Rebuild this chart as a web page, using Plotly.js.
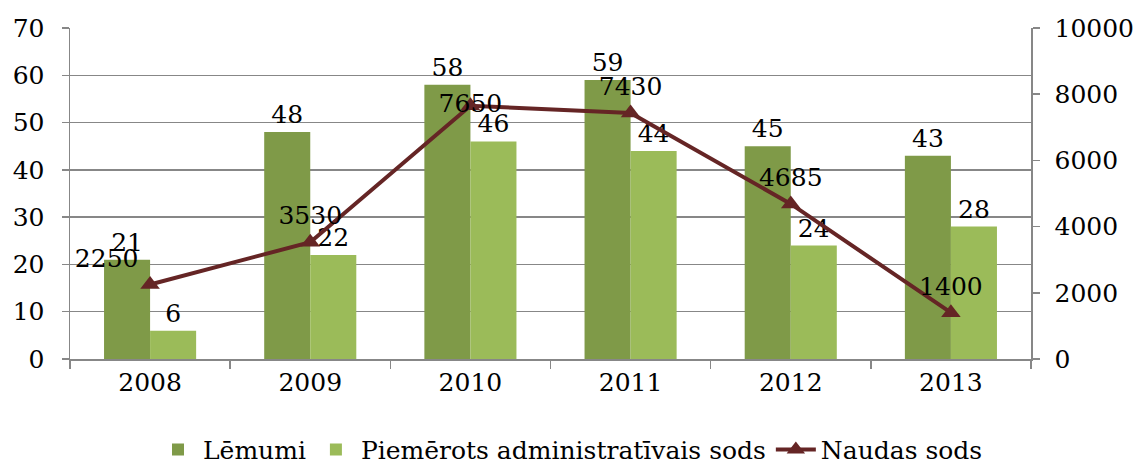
<!DOCTYPE html>
<html>
<head>
<meta charset="utf-8">
<script src="https://cdn.plot.ly/plotly-3.0.1.min.js"></script>
<style>html,body{margin:0;padding:0;background:#fff;}#chart{width:1141px;height:469px;}</style>
</head>
<body>
<div id="chart"></div>
<script>
const years = ['2008', '2009', '2010', '2011', '2012', '2013'];
const lemumi = [21, 48, 58, 59, 45, 43];
const piemerots = [6, 22, 46, 44, 24, 28];
const naudasSods = [2250, 3530, 7650, 7430, 4685, 1400];
const seriesNames = ['Lēmumi', 'Piemērots administratīvais sods', 'Naudas sods'];
const lineLabelPos = ['top left', 'top center', 'middle center', 'top center', 'top center', 'top center'];

const FONT = 'DejaVu Serif';
const FS = 25;

const traces = [
  {
    type: 'bar', name: seriesNames[0], x: years, y: lemumi,
    marker: {color: '#7F9A48'},
    text: lemumi.map(String), textposition: 'outside',
    textfont: {family: FONT, size: FS, color: '#000'},
    cliponaxis: false
  },
  {
    type: 'bar', name: seriesNames[1], x: years, y: piemerots,
    marker: {color: '#9BBB59'},
    text: piemerots.map(String), textposition: 'outside',
    textfont: {family: FONT, size: FS, color: '#000'},
    cliponaxis: false
  },
  {
    type: 'scatter', mode: 'lines+markers+text', name: seriesNames[2],
    x: years, y: naudasSods, yaxis: 'y2',
    line: {color: '#652525', width: 4},
    marker: {symbol: 'triangle-up', size: 17, color: '#652525'},
    text: naudasSods.map(String), textposition: lineLabelPos,
    textfont: {family: FONT, size: FS, color: '#000'},
    cliponaxis: false
  }
];

const layout = {
  width: 1141, height: 469,
  margin: {l: 70, r: 110, t: 28, b: 110},
  paper_bgcolor: '#fff', plot_bgcolor: '#fff',
  font: {family: FONT, size: FS, color: '#000'},
  barmode: 'group', bargap: 0.425, bargroupgap: 0,
  showlegend: true,
  legend: {orientation: 'h', x: 0.5, xanchor: 'center', xref: 'container',
           y: 0.09, yanchor: 'top', yref: 'container',
           font: {family: FONT, size: FS, color: '#000'}, traceorder: 'normal',
           itemwidth: 40},
  xaxis: {
    type: 'category', tickson: 'boundaries', ticks: 'outside', ticklen: 8,
    tickcolor: '#878787', tickwidth: 1.5,
    showline: true, linecolor: '#878787', linewidth: 1.5,
    showgrid: false, tickfont: {family: FONT, size: FS}, fixedrange: true
  },
  yaxis: {
    range: [0, 70], dtick: 10, ticks: 'outside', ticklen: 7,
    tickcolor: '#878787', tickwidth: 1.5,
    showline: true, linecolor: '#878787', linewidth: 1.5,
    showgrid: true, gridcolor: '#878787', gridwidth: 1.5,
    zeroline: false, tickfont: {family: FONT, size: FS},
    ticklabelstandoff: 12
  },
  yaxis2: {
    range: [0, 10000], dtick: 2000, overlaying: 'y', side: 'right',
    tickformat: 'd',
    ticks: 'outside', ticklen: 7, tickcolor: '#878787', tickwidth: 1.5,
    showline: true, linecolor: '#878787', linewidth: 1.5,
    showgrid: false, zeroline: false, tickfont: {family: FONT, size: FS},
    ticklabelstandoff: 10
  }
};

Plotly.newPlot('chart', traces, layout, {staticPlot: true, displayModeBar: false});
</script>
</body>
</html>
